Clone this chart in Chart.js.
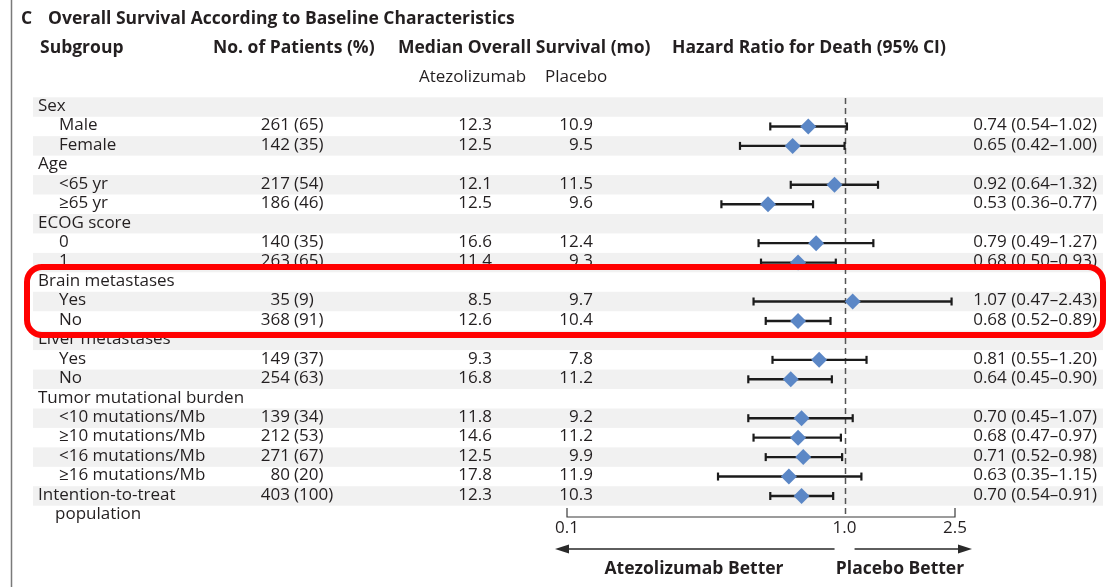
<!DOCTYPE html>
<html>
<head>
<meta charset="utf-8">
<script src="https://cdn.jsdelivr.net/npm/chart.js@4.4.1/dist/chart.umd.min.js"></script>
<style>
  html, body { margin: 0; padding: 0; background: #ffffff; }
  #wrap { width: 1112px; height: 587px; position: relative; }
  canvas { display: block; }
</style>
</head>
<body>
<div id="wrap"><canvas id="forest" width="1112" height="587"></canvas></div>
<script>
// Subgroup rows, top to bottom (null = heading row with no estimate)
const subgroups = ['Sex', 'Male', 'Female', 'Age', '<65 yr', '≥65 yr', 'ECOG score', '0', '1',
  'Brain metastases', 'Yes', 'No', 'Liver metastases', 'Yes', 'No', 'Tumor mutational burden',
  '<10 mutations/Mb', '≥10 mutations/Mb', '<16 mutations/Mb', '≥16 mutations/Mb',
  'Intention-to-treat', 'population'];
const indentLevel = [0, 1, 1, 0, 1, 1, 0, 1, 1, 0, 1, 1, 0, 1, 1, 0, 1, 1, 1, 1, 0, 2];
const patientCount = [null, 261, 142, null, 217, 186, null, 140, 263, null, 35, 368, null, 149, 254, null, 139, 212, 271, 80, 403, null];
const patientPct = [null, 65, 35, null, 54, 46, null, 35, 65, null, 9, 91, null, 37, 63, null, 34, 53, 67, 20, 100, null];
const atezoMedian = [null, '12.3', '12.5', null, '12.1', '12.5', null, '16.6', '11.4', null, '8.5', '12.6', null, '9.3', '16.8', null, '11.8', '14.6', '12.5', '17.8', '12.3', null];
const placeboMedian = [null, '10.9', '9.5', null, '11.5', '9.6', null, '12.4', '9.3', null, '9.7', '10.4', null, '7.8', '11.2', null, '9.2', '11.2', '9.9', '11.9', '10.3', null];
const hazardRatio = [null, 0.74, 0.65, null, 0.92, 0.53, null, 0.79, 0.68, null, 1.07, 0.68, null, 0.81, 0.64, null, 0.70, 0.68, 0.71, 0.63, 0.70, null];
const ciLower = [null, 0.54, 0.42, null, 0.64, 0.36, null, 0.49, 0.50, null, 0.47, 0.52, null, 0.55, 0.45, null, 0.45, 0.47, 0.52, 0.35, 0.54, null];
const ciUpper = [null, 1.02, 1.00, null, 1.32, 0.77, null, 1.27, 0.93, null, 2.43, 0.89, null, 1.20, 0.90, null, 1.07, 0.97, 0.98, 1.15, 0.91, null];
const axisTicks = [0.1, 1.0, 2.5];

const INK = '#231f20';
const FONT = '"Open Sans", "DejaVu Sans", sans-serif';
const BAND = '#f1f1f1';
const MARKER = '#5b87c6';

// One short line per confidence interval, with vertical caps at both ends
const ciDatasets = [];
hazardRatio.forEach((hr, i) => {
  if (hr === null) return;
  ciDatasets.push({
    type: 'line',
    data: [{ x: ciLower[i], y: i }, { x: ciUpper[i], y: i }],
    borderColor: '#1b1b1b',
    borderWidth: 2.4,
    pointStyle: 'line',
    rotation: 90,
    pointRadius: 4,
    pointBorderWidth: 2.2,
    pointBorderColor: '#1b1b1b',
    fill: false,
    order: 2
  });
});

const hrDataset = {
  type: 'scatter',
  data: hazardRatio.map((hr, i) => (hr === null ? null : { x: hr, y: i })).filter(p => p),
  pointStyle: 'rectRot',
  pointRadius: 8,
  backgroundColor: MARKER,
  borderColor: MARKER,
  borderWidth: 0,
  order: 1
};

function fmt2(v) { return v.toFixed(2); }

const tablePlugin = {
  id: 'forestTable',
  beforeDatasetsDraw(chart) {
    const { ctx, chartArea } = chart;
    const ys = chart.scales.y, xs = chart.scales.x;
    const step = Math.abs(ys.getPixelForValue(1) - ys.getPixelForValue(0));
    ctx.save();
    // alternating row bands
    ctx.fillStyle = BAND;
    for (let i = 0; i < subgroups.length - 1; i += 2) {
      const yc = ys.getPixelForValue(i);
      ctx.fillRect(33, yc - step / 2, 1103 - 33, step);
    }
    // reference line at HR = 1
    const x1 = Math.round(xs.getPixelForValue(1)) + 0.5;
    ctx.strokeStyle = '#555555';
    ctx.lineWidth = 1.5;
    ctx.setLineDash([6, 4]);
    ctx.beginPath();
    ctx.moveTo(x1, chartArea.top);
    ctx.lineTo(x1, chartArea.bottom);
    ctx.stroke();
    ctx.setLineDash([]);
    // axis bracket
    const xa = xs.getPixelForValue(axisTicks[0]);
    const xb = xs.getPixelForValue(axisTicks[axisTicks.length - 1]);
    const yb = chartArea.bottom;
    ctx.strokeStyle = '#3a3a3a';
    ctx.lineWidth = 1.2;
    ctx.beginPath();
    ctx.moveTo(xa, yb - 9);
    ctx.lineTo(xa, yb);
    ctx.lineTo(xb, yb);
    ctx.lineTo(xb, yb - 9);
    ctx.stroke();
    ctx.restore();
  },
  afterDraw(chart) {
    const { ctx } = chart;
    const ys = chart.scales.y, xs = chart.scales.x;
    ctx.save();
    ctx.fillStyle = INK;
    ctx.textBaseline = 'middle';

    // left frame line
    ctx.strokeStyle = '#7a7a7a';
    ctx.lineWidth = 1.5;
    ctx.beginPath();
    ctx.moveTo(11.5, 0);
    ctx.lineTo(11.5, 587);
    ctx.stroke();

    // title and column headers
    ctx.textAlign = 'left';
    ctx.font = 'bold 17.5px ' + FONT;
    ctx.fillText('C', 21, 19);
    ctx.fillText('Overall Survival According to Baseline Characteristics', 48, 19);
    ctx.fillText('Subgroup', 40, 48);
    ctx.fillText('No. of Patients (%)', 213, 48);
    ctx.fillText('Median Overall Survival (mo)', 398, 48);
    ctx.fillText('Hazard Ratio for Death (95% CI)', 672, 48);
    ctx.font = '17px ' + FONT;
    ctx.fillText('Atezolizumab', 419, 77);
    ctx.fillText('Placebo', 545, 77);

    // table body
    ctx.font = '17px ' + FONT;
    subgroups.forEach((label, i) => {
      const y = ys.getPixelForValue(i) - 1;
      ctx.textAlign = 'left';
      const indentX = [38, 59, 55][indentLevel[i]];
      ctx.fillText(label, indentX, y);
      if (patientCount[i] !== null) {
        ctx.textAlign = 'right';
        ctx.fillText(String(patientCount[i]), 290, y);
        ctx.textAlign = 'left';
        ctx.fillText('(' + patientPct[i] + ')', 294, y);
      }
      if (atezoMedian[i] !== null) {
        ctx.textAlign = 'right';
        ctx.fillText(atezoMedian[i], 492, y);
        ctx.fillText(placeboMedian[i], 593, y);
      }
      if (hazardRatio[i] !== null) {
        ctx.textAlign = 'right';
        ctx.fillText(fmt2(hazardRatio[i]) + ' (' + fmt2(ciLower[i]) + '–' + fmt2(ciUpper[i]) + ')', 1097, y);
      }
    });

    // direction arrows under the axis
    const x1 = xs.getPixelForValue(1);
    const xa = xs.getPixelForValue(axisTicks[0]);
    const xb = xs.getPixelForValue(axisTicks[axisTicks.length - 1]);
    const ya = 549;
    ctx.strokeStyle = '#2a2a2a';
    ctx.fillStyle = '#2a2a2a';
    ctx.lineWidth = 1.3;
    ctx.beginPath();
    ctx.moveTo(x1 - 10, ya);
    ctx.lineTo(xa - 2, ya);
    ctx.moveTo(x1 + 10, ya);
    ctx.lineTo(xb + 6, ya);
    ctx.stroke();
    ctx.beginPath();
    ctx.moveTo(xa - 12, ya);
    ctx.lineTo(xa + 2, ya - 4.5);
    ctx.lineTo(xa + 2, ya + 4.5);
    ctx.closePath();
    ctx.fill();
    ctx.beginPath();
    ctx.moveTo(xb + 17, ya);
    ctx.lineTo(xb + 3, ya - 4.5);
    ctx.lineTo(xb + 3, ya + 4.5);
    ctx.closePath();
    ctx.fill();
    ctx.fillStyle = INK;
    ctx.font = 'bold 17.5px ' + FONT;
    ctx.textAlign = 'center';
    ctx.fillText('Atezolizumab Better', 694, 569);
    ctx.fillText('Placebo Better', 900, 569);

    // highlight frame around the brain metastases block
    ctx.strokeStyle = '#ff0000';
    ctx.lineWidth = 6;
    ctx.beginPath();
    ctx.roundRect(27, 267, 1103 - 27, 335 - 267, 15);
    ctx.stroke();
    ctx.restore();
  }
};

new Chart(document.getElementById('forest'), {
  type: 'scatter',
  data: { datasets: [...ciDatasets, hrDataset] },
  options: {
    responsive: false,
    animation: false,
    layout: { padding: { left: 567, right: 157, top: 98, bottom: 0 } },
    plugins: { legend: { display: false }, tooltip: { enabled: false } },
    scales: {
      x: {
        type: 'logarithmic',
        min: axisTicks[0],
        max: axisTicks[axisTicks.length - 1],
        position: 'bottom',
        afterBuildTicks: s => { s.ticks = axisTicks.map(v => ({ value: v })); },
        afterFit: s => { s.height = 70; },
        ticks: {
          callback: v => Number(v).toFixed(1),
          font: { family: FONT, size: 17 },
          color: INK,
          padding: 1,
          maxRotation: 0,
          autoSkip: false
        },
        grid: { display: false, drawTicks: false },
        border: { display: false }
      },
      y: { display: false, reverse: true, min: -0.463, max: 21.08 }
    }
  },
  plugins: [tablePlugin]
});
</script>
</body>
</html>
